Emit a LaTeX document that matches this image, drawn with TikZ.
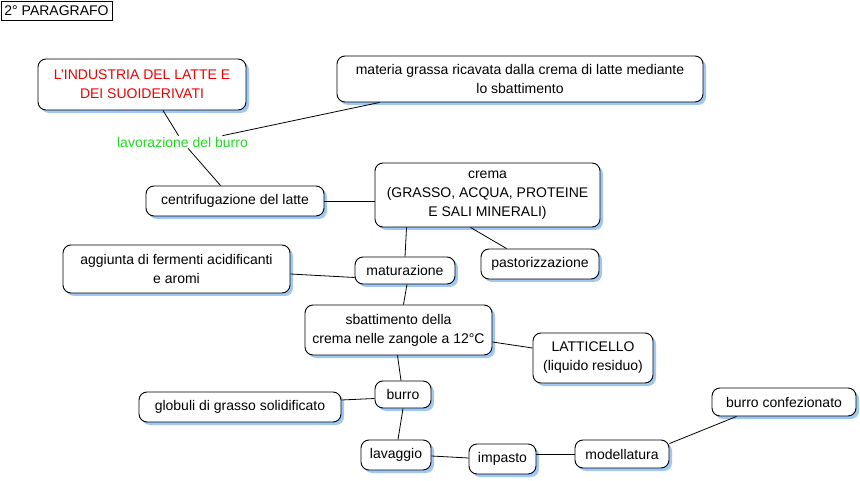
\documentclass[tikz,border=0pt]{standalone}
\usepackage{fontspec}
\setmainfont{Liberation Sans}
\usetikzlibrary{shadows,calc}
\definecolor{shadowblue}{RGB}{160,200,245}
\definecolor{labgreen}{RGB}{30,220,30}
\definecolor{titlered}{RGB}{240,0,0}
\tikzset{
  box/.style={draw, rounded corners=8pt, fill=white, line width=0.9pt, align=center, inner sep=0pt,
    font=\fontsize{14}{19}\selectfont,
    drop shadow={shadow xshift=3pt, shadow yshift=-3pt, fill=shadowblue, opacity=1}},
  conn/.style={line width=0.8pt},
  lbl/.style={font=\fontsize{14}{19}\selectfont, text=labgreen, inner sep=1pt},
  titlebox/.style={draw, line width=0.9pt, inner sep=0pt, font=\fontsize{14}{19}\selectfont}
}
\begin{document}
\begin{tikzpicture}[x=1pt,y=-1pt]
\useasboundingbox (0,0) rectangle (860,481);
\node[titlebox, minimum width=111pt, minimum height=19pt] (title) at (56.5,10.5) {2° PARAGRAFO};
\node[box, minimum width=208pt, minimum height=51pt, text=titlered] (ind) at (142,84.5) {L'INDUSTRIA DEL LATTE E\\DEI SUOIDERIVATI};
\node[box, minimum width=366pt, minimum height=46pt] (mat) at (520,79) {materia grassa ricavata dalla crema di latte mediante\\lo sbattimento};
\node[lbl] (lab) at (182.5,142) {lavorazione del burro};
\node[box, minimum width=178pt, minimum height=30pt] (centr) at (235,201) {centrifugazione del latte};
\node[box, minimum width=225pt, minimum height=64pt] (crema) at (487.5,195) {crema\\(GRASSO, ACQUA, PROTEINE\\E SALI MINERALI)};
\node[box, minimum width=118pt, minimum height=30pt] (past) at (540,264) {pastorizzazione};
\node[box, minimum width=100pt, minimum height=27pt] (matu) at (405,270.5) {maturazione};
\node[box, minimum width=227pt, minimum height=48pt] (agg) at (176.5,269) {aggiunta di fermenti acidificanti\\e aromi};
\node[box, minimum width=187pt, minimum height=50pt] (sbatt) at (398.5,330) {sbattimento della\\crema nelle zangole a 12°C};
\node[box, minimum width=120pt, minimum height=50pt] (latt) at (593,358) {LATTICELLO\\(liquido residuo)};
\node[box, minimum width=56pt, minimum height=27pt] (burro) at (403,394.5) {burro};
\node[box, minimum width=202pt, minimum height=30pt] (glob) at (240,407) {globuli di grasso solidificato};
\node[box, minimum width=144pt, minimum height=28pt] (conf) at (784,402) {burro confezionato};
\node[box, minimum width=70pt, minimum height=30pt] (lav) at (396,455) {lavaggio};
\node[box, minimum width=67pt, minimum height=30pt] (imp) at (502.5,459) {impasto};
\node[box, minimum width=94pt, minimum height=28pt] (mod) at (622,454) {modellatura};

\draw[conn] ($(ind.south)+(21,0)$) -- (lab);
\draw[conn] (lab) -- ($(centr.north west)+(75,0)$);
\draw[conn] ($(lab.north)+(40,0)$) -- ($(mat.south west)+(43,0)$);
\draw[conn] (centr.east) -- (centr.east -| crema.west);
\draw[conn] ($(crema.south west)+(32,0)$) -- (matu.north);
\draw[conn] ($(crema.south)+(-17,0)$) -- ($(past.north west)+(26,0)$);
\draw[conn] ($(agg.east)+(0,5)$) -- ($(matu.west)+(0,7)$);
\draw[conn] ($(matu.south)+(2,0)$) -- ($(sbatt.north)+(5,0)$);
\draw[conn] ($(sbatt.east)+(0,12)$) -- ($(latt.west)+(0,-10)$);
\draw[conn] ($(sbatt.south)+(-1,0)$) -- ($(burro.north)+(-2,0)$);
\draw[conn] ($(burro.west)+(0,4)$) -- ($(glob.east)+(0,-7)$);
\draw[conn] (burro.south) -- ($(lav.north)+(2,0)$);
\draw[conn] ($(lav.east)+(0,1)$) -- ($(imp.west)+(0,-1)$);
\draw[conn] (imp.east |- mod.west) -- (mod.west);
\draw[conn] ($(mod.north east)+(0,4)$) -- ($(conf.south west)+(25,0)$);
\end{tikzpicture}
\end{document}
